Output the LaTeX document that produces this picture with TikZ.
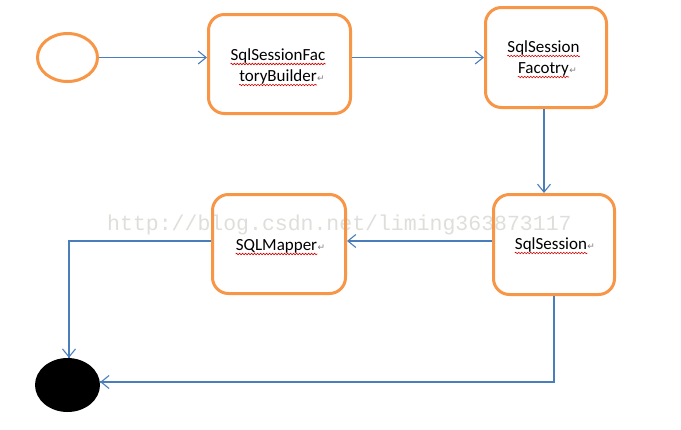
\documentclass[tikz,border=0pt]{standalone}
\usepackage{fontspec}
\setmainfont{Carlito}
\newfontfamily\symfont{DejaVu Sans}
\newfontfamily\wmfont{Liberation Mono}
\usetikzlibrary{arrows.meta,decorations.pathmorphing,shapes.geometric}
\definecolor{boxorange}{HTML}{F79646}
\definecolor{linkblue}{HTML}{4A7EBB}
\definecolor{wmgray}{RGB}{222,222,218}
\tikzset{
  statebox/.style={draw=boxorange,line width=3pt,rounded corners=16pt,inner sep=0pt},
  startnode/.style={ellipse,draw=boxorange,line width=3pt,inner sep=0pt,minimum width=60pt,minimum height=48pt},
  endnode/.style={ellipse,fill=black,inner sep=0pt,minimum width=65pt,minimum height=54pt},
  conn/.style={draw=linkblue,line width=1.1pt,-{Straight Barb[length=8pt,width=13pt,line width=1.1pt]}},
  link/.style={draw=linkblue,line width=1.1pt},
  word/.style={anchor=base,inner sep=0pt,font=\fontsize{17}{20}\selectfont},
  pmark/.style={anchor=base west,inner sep=0pt,text=gray,font=\symfont\fontsize{9}{10}\selectfont},
  squig/.style={draw=red!85!black,line width=0.6pt,decorate,decoration={snake,segment length=3pt,amplitude=0.8pt}},
  wmark/.style={anchor=base west,inner sep=0pt,text=wmgray,font=\wmfont\fontsize{21.5}{24}\selectfont}
}
\begin{document}
\begin{tikzpicture}[x=1pt,y=-1pt]
\useasboundingbox (0,0) rectangle (681,429);
% watermark
\node[wmark] (wm) at (107,230) {http://blog.csdn.net/liming363873117};
% shapes
\node[startnode] (start) at (67.5,57.5) {};
\node[endnode] (stop) at (67.5,385) {};
\node[statebox,minimum width=142pt,minimum height=99pt] (b1) at (279.5,64) {};
\node[statebox,minimum width=121pt,minimum height=100pt] (b2) at (546,57.5) {};
\node[statebox,minimum width=133pt,minimum height=99pt] (b3) at (279,244) {};
\node[statebox,minimum width=121pt,minimum height=100pt] (b4) at (554,244.5) {};
% texts
\node[word] (t1a) at (278,60) {SqlSessionFac};
\node[word] (t1b) at (278,81) {toryBuilder};
\node[pmark] (p1) at (t1b.base east) {↵};
\node[word] (t2a) at (543.5,52) {SqlSession};
\node[word] (t2b) at (543.5,73) {Facotry};
\node[pmark] (p2) at (t2b.base east) {↵};
\node[word] (t3) at (276.5,250) {SQLMapper};
\node[pmark] (p3) at (t3.base east) {↵};
\node[word] (t4) at (551,249) {SqlSession};
\node[pmark] (p4) at (t4.base east) {↵};
% spelling squiggles
\foreach \t in {t1a,t1b,t2a,t2b,t3,t4}{
  \draw[squig] ([yshift=-4pt]\t.base west) -- ([yshift=-4pt]\t.base east);
}
% connectors
\coordinate (toprow) at (start.east);
\draw[conn] (start.east) -- (toprow -| b1.west);
\draw[conn] (toprow -| b1.east) -- (toprow -| b2.west);
\coordinate (down) at ([xshift=-2pt]b2.south);
\draw[conn] (down) -- (down |- b4.north);
\coordinate (mid) at ([yshift=3.5pt]b4.west);
\draw[conn] (mid) -- (mid -| b3.east);
\draw[link] (mid -| b3.west) -| ([xshift=1.5pt]stop.north);
\draw[conn] ([xshift=1.5pt]stop.north |- mid) -- ([xshift=1.5pt]stop.north);
\coordinate (low) at ([yshift=3pt]stop.east);
\draw[link] (b4.south) |- (low);
\draw[conn] ([xshift=40pt]low) -- (low);
\end{tikzpicture}
\end{document}
